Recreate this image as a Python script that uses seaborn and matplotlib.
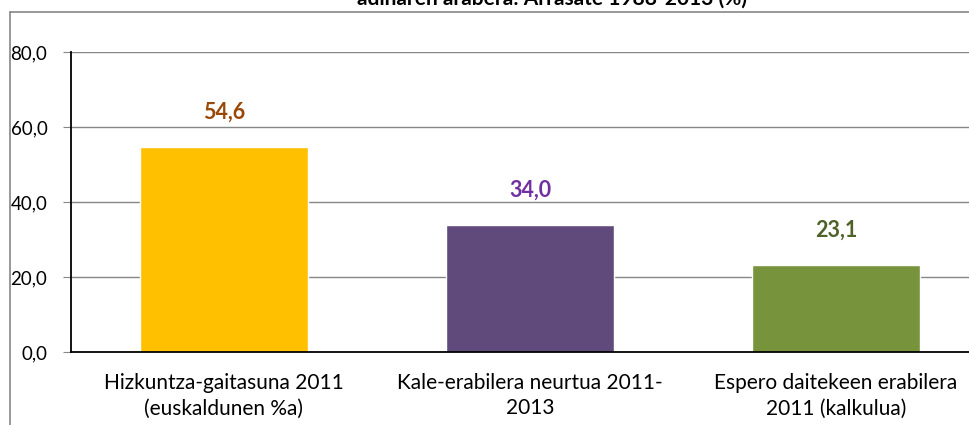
import numpy as np
import pandas as pd
import seaborn as sns
import matplotlib.pyplot as plt
from matplotlib.lines import Line2D

categories = [
    "Hizkuntza-gaitasuna 2011\n(euskaldunen %a)",
    "Kale-erabilera neurtua 2011-\n2013",
    "Espero daitekeen erabilera\n2011 (kalkulua)",
]
values = [54.6, 34.0, 23.1]
bar_colors = ["#FFC000", "#604A7B", "#77933C"]
label_colors = ["#984807", "#7030A0", "#4F6228"]
y_ticks = [0, 20, 40, 60, 80]
title = "adinaren arabera: Arrasate 1988-2013 (%)"

sns.set_theme(style="white")
plt.rcParams['font.family'] = ['Lato', 'DejaVu Sans']

df = pd.DataFrame({"cat": categories, "val": values})

fig = plt.figure(figsize=(9.69, 4.25), dpi=100)
ax = fig.add_axes([71 / 969, 1 - 352 / 425, 918 / 969, 300 / 425])

sns.barplot(data=df, x="cat", y="val", hue="cat", palette=bar_colors,
            width=0.546, legend=False, ax=ax, saturation=1, zorder=3)

ax.set_ylim(0, 80)
ax.set_xlim(-0.5, 2.5)
ax.set_yticks(y_ticks)
ax.set_yticklabels([f"{v:.1f}".replace(".", ",") for v in y_ticks], fontsize=13.5, color="black")
ax.set_xticks(range(len(categories)))
ax.set_xticklabels(categories, fontsize=15, color="black", linespacing=1.35)
ax.set_xticks(np.arange(-0.5, 3.0, 1.0), minor=True)
ax.tick_params(axis="x", which="major", length=0, pad=15)
ax.tick_params(axis="x", which="minor", length=6, width=0.8, color="#868686", direction="out")
ax.tick_params(axis="y", length=6, width=0.8, color="#868686", direction="out", pad=11, left=True)
ax.set_xlabel("")
ax.set_ylabel("")

for v in y_ticks[1:]:
    ax.axhline(v, color="#868686", lw=1.0, zorder=1)

for s in ["top", "right"]:
    ax.spines[s].set_visible(False)
for s in ["left", "bottom"]:
    ax.spines[s].set_color("black")
    ax.spines[s].set_linewidth(1.3)
    ax.spines[s].set_zorder(4)

for i, v in enumerate(values):
    ax.annotate(f"{v:.1f}".replace(".", ","), (i, v), xytext=(0, 25),
                textcoords="offset points", ha="center", va="center",
                fontsize=15.5, fontweight="bold", color=label_colors[i])

# outer chart frame (cropped)
fig.add_artist(Line2D([10 / 969, 10 / 969], [0, 1 - 12 / 425], color="#868686", lw=1.2))
fig.add_artist(Line2D([10 / 969, 1], [1 - 12 / 425, 1 - 12 / 425], color="#868686", lw=1.2))

fig.text(552 / 969, 1 - 5 / 425, title, ha="center", va="baseline",
         fontsize=15, fontweight="bold", color="black")

fig.savefig("out.png", dpi=100)
